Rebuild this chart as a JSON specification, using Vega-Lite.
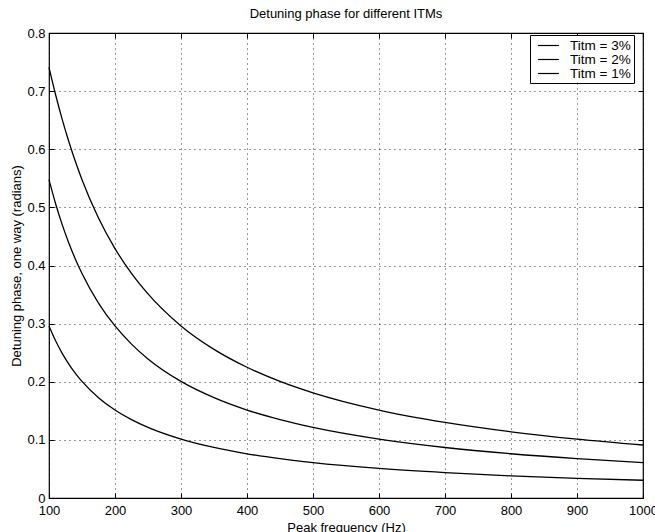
{
  "$schema": "https://vega.github.io/schema/vega-lite/v6.json",
  "autosize": "none",
  "width": 594,
  "height": 465,
  "padding": {"left": 49, "top": 33, "right": 12, "bottom": 34},
  "background": "white",
  "title": {"text": "Detuning phase for different ITMs", "fontSize": 13, "font": "Liberation Sans", "fontWeight": "normal", "color": "black", "offset": 6},
  "config": {
    "view": {"stroke": "black", "strokeWidth": 1.2},
    "axis": {"labelFont": "Liberation Sans", "labelFontSize": 13, "labelColor": "black", "titleFont": "Liberation Sans", "titleFontSize": 13, "titleFontWeight": "normal", "titleColor": "black", "domainColor": "black", "tickColor": "black", "gridColor": "black", "gridDash": [1, 4], "gridOpacity": 0.8, "gridWidth": 1}
  },
  "data": {"values": [
    {"f": 100, "phase": 0.7410, "series": "Titm = 3%"},
    {"f": 110, "phase": 0.6938, "series": "Titm = 3%"},
    {"f": 120, "phase": 0.6515, "series": "Titm = 3%"},
    {"f": 130, "phase": 0.6133, "series": "Titm = 3%"},
    {"f": 140, "phase": 0.5789, "series": "Titm = 3%"},
    {"f": 150, "phase": 0.5477, "series": "Titm = 3%"},
    {"f": 175, "phase": 0.4818, "series": "Titm = 3%"},
    {"f": 200, "phase": 0.4291, "series": "Titm = 3%"},
    {"f": 225, "phase": 0.3863, "series": "Titm = 3%"},
    {"f": 250, "phase": 0.3511, "series": "Titm = 3%"},
    {"f": 300, "phase": 0.2960, "series": "Titm = 3%"},
    {"f": 350, "phase": 0.2557, "series": "Titm = 3%"},
    {"f": 400, "phase": 0.2249, "series": "Titm = 3%"},
    {"f": 450, "phase": 0.2006, "series": "Titm = 3%"},
    {"f": 500, "phase": 0.1810, "series": "Titm = 3%"},
    {"f": 600, "phase": 0.1513, "series": "Titm = 3%"},
    {"f": 700, "phase": 0.1300, "series": "Titm = 3%"},
    {"f": 800, "phase": 0.1139, "series": "Titm = 3%"},
    {"f": 900, "phase": 0.1013, "series": "Titm = 3%"},
    {"f": 1000, "phase": 0.0912, "series": "Titm = 3%"},
    {"f": 100, "phase": 0.5477, "series": "Titm = 2%"},
    {"f": 110, "phase": 0.5063, "series": "Titm = 2%"},
    {"f": 120, "phase": 0.4703, "series": "Titm = 2%"},
    {"f": 130, "phase": 0.4387, "series": "Titm = 2%"},
    {"f": 140, "phase": 0.4109, "series": "Titm = 2%"},
    {"f": 150, "phase": 0.3863, "series": "Titm = 2%"},
    {"f": 175, "phase": 0.3354, "series": "Titm = 2%"},
    {"f": 200, "phase": 0.2960, "series": "Titm = 2%"},
    {"f": 225, "phase": 0.2648, "series": "Titm = 2%"},
    {"f": 250, "phase": 0.2393, "series": "Titm = 2%"},
    {"f": 300, "phase": 0.2006, "series": "Titm = 2%"},
    {"f": 350, "phase": 0.1726, "series": "Titm = 2%"},
    {"f": 400, "phase": 0.1513, "series": "Titm = 2%"},
    {"f": 450, "phase": 0.1348, "series": "Titm = 2%"},
    {"f": 500, "phase": 0.1214, "series": "Titm = 2%"},
    {"f": 600, "phase": 0.1013, "series": "Titm = 2%"},
    {"f": 700, "phase": 0.0869, "series": "Titm = 2%"},
    {"f": 800, "phase": 0.0761, "series": "Titm = 2%"},
    {"f": 900, "phase": 0.0677, "series": "Titm = 2%"},
    {"f": 1000, "phase": 0.0609, "series": "Titm = 2%"},
    {"f": 100, "phase": 0.2960, "series": "Titm = 1%"},
    {"f": 110, "phase": 0.2705, "series": "Titm = 1%"},
    {"f": 120, "phase": 0.2489, "series": "Titm = 1%"},
    {"f": 130, "phase": 0.2305, "series": "Titm = 1%"},
    {"f": 140, "phase": 0.2145, "series": "Titm = 1%"},
    {"f": 150, "phase": 0.2006, "series": "Titm = 1%"},
    {"f": 175, "phase": 0.1726, "series": "Titm = 1%"},
    {"f": 200, "phase": 0.1513, "series": "Titm = 1%"},
    {"f": 225, "phase": 0.1348, "series": "Titm = 1%"},
    {"f": 250, "phase": 0.1214, "series": "Titm = 1%"},
    {"f": 300, "phase": 0.1013, "series": "Titm = 1%"},
    {"f": 350, "phase": 0.0869, "series": "Titm = 1%"},
    {"f": 400, "phase": 0.0761, "series": "Titm = 1%"},
    {"f": 450, "phase": 0.0677, "series": "Titm = 1%"},
    {"f": 500, "phase": 0.0609, "series": "Titm = 1%"},
    {"f": 600, "phase": 0.0508, "series": "Titm = 1%"},
    {"f": 700, "phase": 0.0436, "series": "Titm = 1%"},
    {"f": 800, "phase": 0.0381, "series": "Titm = 1%"},
    {"f": 900, "phase": 0.0339, "series": "Titm = 1%"},
    {"f": 1000, "phase": 0.0305, "series": "Titm = 1%"}
  ]},
  "layer": [
    {
      "mark": {"type": "line", "strokeWidth": 1.3, "interpolate": "monotone"},
      "encoding": {
        "x": {"field": "f", "type": "quantitative", "scale": {"domain": [100, 1000], "nice": false, "zero": false},
              "axis": {"values": [100, 200, 300, 400, 500, 600, 700, 800, 900, 1000], "format": "d", "tickSize": -5, "labelPadding": 11, "title": "Peak frequency (Hz)", "titlePadding": 4, "domain": false, "labelFlush": false}},
        "y": {"field": "phase", "type": "quantitative", "scale": {"domain": [0, 0.8], "nice": false},
              "axis": {"values": [0, 0.1, 0.2, 0.3, 0.4, 0.5, 0.6, 0.7, 0.8], "format": "~g", "tickSize": -5, "labelPadding": 9, "title": "Detuning phase, one way (radians)", "titlePadding": 3, "domain": false, "labelFlush": false}},
        "color": {"field": "series", "type": "nominal", "sort": ["Titm = 3%", "Titm = 2%", "Titm = 1%"],
                  "scale": {"range": ["black", "black", "black"]},
                  "legend": {"orient": "none", "legendX": 481, "legendY": 2, "title": null, "symbolType": "M-1.6,0H1.6", "symbolSize": 169, "symbolStrokeWidth": 1.2, "symbolOffset": 8, "labelFont": "Liberation Sans", "labelFontSize": 13.5, "labelColor": "black", "fillColor": "white", "strokeColor": "black", "padding": 3, "rowPadding": 0, "labelOffset": 14}}
      }
    },
    {
      "mark": {"type": "point", "opacity": 0},
      "encoding": {
        "x": {"field": "f", "type": "quantitative", "scale": {"domain": [100, 1000], "nice": false, "zero": false},
              "axis": {"orient": "top", "values": [100, 200, 300, 400, 500, 600, 700, 800, 900, 1000], "tickSize": -5, "labels": false, "grid": false, "title": null, "domain": false}},
        "y": {"field": "phase", "type": "quantitative", "scale": {"domain": [0, 0.8], "nice": false},
              "axis": {"orient": "right", "values": [0, 0.1, 0.2, 0.3, 0.4, 0.5, 0.6, 0.7, 0.8], "tickSize": -5, "labels": false, "grid": false, "title": null, "domain": false}}
      }
    }
  ],
  "resolve": {"axis": {"x": "independent", "y": "independent"}}
}
